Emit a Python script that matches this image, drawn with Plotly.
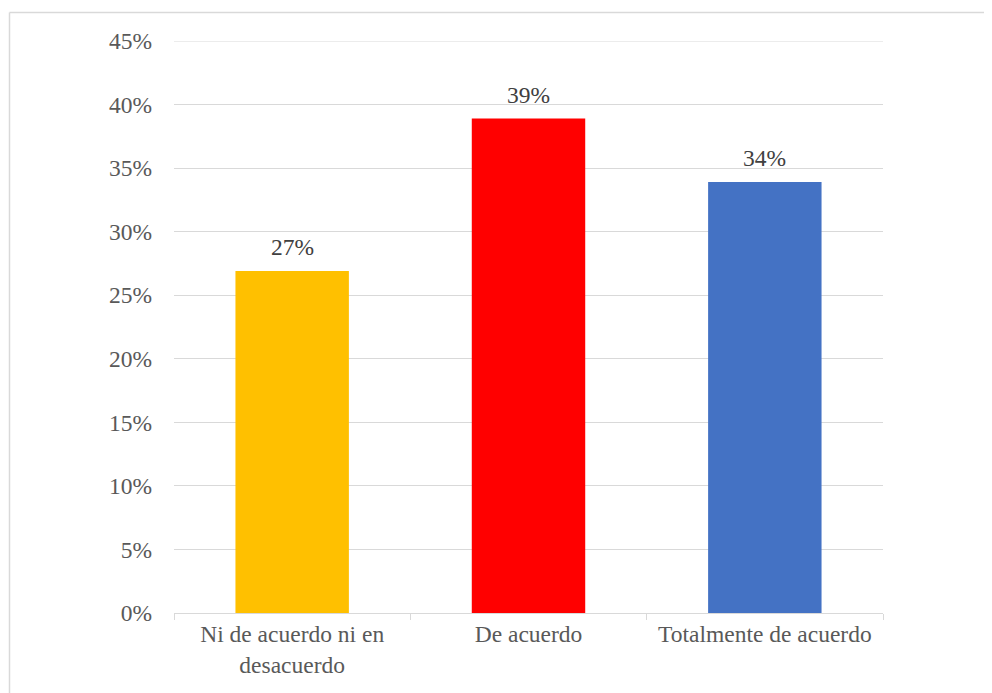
import plotly.graph_objects as go

categories = ["Ni de acuerdo ni en<br>desacuerdo", "De acuerdo", "Totalmente de acuerdo"]
values = [0.269, 0.389, 0.339]
labels = ["27%", "39%", "34%"]
colors = ["#FFC000", "#FF0000", "#4472C4"]
y_max = 0.45
y_step = 0.05

# page body has an 8px margin; compensate
OFF = 8
W, H = 992 - OFF, 693 - OFF
L, R, T, B = 174 - OFF, 883 - OFF, 41 - OFF, 613 - OFF

fig = go.Figure()
fig.add_trace(go.Bar(
    x=categories, y=values,
    marker=dict(color=colors, line=dict(width=0)),
    width=0.48,
    hoverinfo="skip",
))

for c, v, lab in zip(categories, values, labels):
    fig.add_annotation(x=c, y=v, text=lab, showarrow=False, yanchor="bottom",
                       yshift=9, font=dict(family="Liberation Serif, Times New Roman, serif",
                                             size=23.5, color="#404040"))

pw = R - L
ph = B - T
def px(x):
    return (x - OFF - L) / pw
def py(y):
    return (B - (y - OFF)) / ph

# top gridline (plotly hides gridlines on the plot edge)
fig.add_shape(type="line", xref="paper", yref="y", x0=0, x1=1, y0=y_max, y1=y_max,
              line=dict(color="#D9D9D9", width=1), layer="below")

# outer chart border (cropped by the image edges)
fig.add_shape(type="line", xref="paper", yref="paper", x0=px(9.5), x1=px(1010), y0=py(12.5), y1=py(12.5),
              line=dict(color="#D9D9D9", width=1.5))
fig.add_shape(type="line", xref="paper", yref="paper", x0=px(9.5), x1=px(9.5), y0=py(12.5), y1=py(710),
              line=dict(color="#D9D9D9", width=1.5))

font = dict(family="Liberation Serif, Times New Roman, serif", size=23.5, color="#595959")

fig.update_layout(
    width=W, height=H,
    margin=dict(l=L, r=W - R, t=T, b=H - B, pad=0),
    paper_bgcolor="white", plot_bgcolor="white",
    showlegend=False,
    font=font,
    xaxis=dict(
        showgrid=False, showline=True, linecolor="#D9D9D9", linewidth=1,
        ticks="outside", tickson="boundaries", ticklen=6, tickcolor="#D9D9D9",
        tickfont=font, fixedrange=True,
    ),
    yaxis=dict(
        range=[0, y_max], tick0=0, dtick=y_step, tickformat=".0%",
        showgrid=True, gridcolor="#D9D9D9", gridwidth=1,
        showline=False, zeroline=False, ticks="",
        tickfont=font, ticklabelstandoff=21, fixedrange=True,
    ),
)

fig.write_html("out.html")
